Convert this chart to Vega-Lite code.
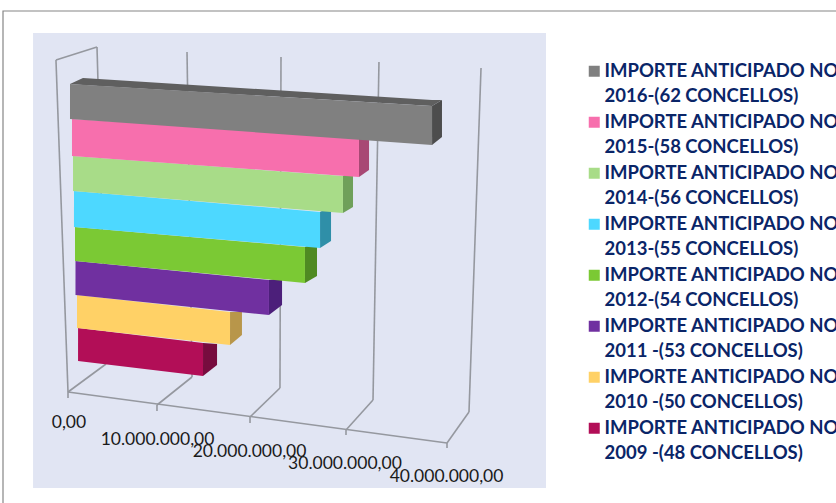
{
"$schema":"https://vega.github.io/schema/vega-lite/v6.json",
"width":836,"height":503,"padding":0,"autosize":{"type":"none"},
"background":"white",
"config":{"view":{"stroke":null},"font":"Lato"},
"datasets":{
"panel":[{"a":-3.69,"b":50.45,"t":33,"u":488}],
"frame":[{"a":-6.86,"b":85,"t":11,"u":525}],
"grid":[
{"m":-1.27,"y":60,"m2":3.06,"y2":47},
{"m":-1.27,"y":60,"m2":0,"y2":392},
{"m":3.06,"y":47,"m2":4.01,"y2":364},
{"m":12.56,"y":52,"m2":13.09,"y2":377},
{"m":22.48,"y":57,"m2":22.37,"y2":388},
{"m":32.82,"y":62,"m2":32.19,"y2":400},
{"m":43.59,"y":68,"m2":42.32,"y2":412},
{"m":0,"y":392,"m2":4.01,"y2":364},
{"m":9.39,"y":405,"m2":13.09,"y2":377},
{"m":19.21,"y":417,"m2":22.37,"y2":388},
{"m":29.34,"y":430,"m2":32.19,"y2":400},
{"m":40,"y":443,"m2":42.32,"y2":412},
{"m":0,"y":392,"m2":40,"y2":443},
{"m":0,"y":392,"m2":0,"y2":398},
{"m":9.39,"y":405,"m2":9.39,"y2":411},
{"m":19.21,"y":417,"m2":19.21,"y2":423},
{"m":29.34,"y":430,"m2":29.34,"y2":435},
{"m":40,"y":443,"m2":40,"y2":448}
],
"front":[
{"s":"2009","m":1.06,"t":328,"u":361},{"s":"2009","m":14.25,"t":343,"u":376},
{"s":"2010","m":0.95,"t":295,"u":328},{"s":"2010","m":17.10,"t":312,"u":345},
{"s":"2011","m":0.79,"t":261,"u":295},{"s":"2011","m":21.21,"t":280,"u":315},
{"s":"2012","m":0.74,"t":227,"u":261},{"s":"2012","m":25.01,"t":247,"u":283},
{"s":"2013","m":0.63,"t":191,"u":227},{"s":"2013","m":26.60,"t":212,"u":248},
{"s":"2014","m":0.53,"t":156,"u":191},{"s":"2014","m":29.02,"t":176,"u":213},
{"s":"2015","m":0.42,"t":119,"u":156},{"s":"2015","m":30.71,"t":136,"u":177},
{"s":"2016","m":0.21,"t":84,"u":119},{"s":"2016","m":38.42,"t":106,"u":145}
],
"side":[
{"s":"2009","m":14.25,"t":343,"u":376},{"s":"2009","m":15.73,"t":344,"u":365},
{"s":"2010","m":17.10,"t":312,"u":345},{"s":"2010","m":18.36,"t":312,"u":335},
{"s":"2011","m":21.21,"t":280,"u":315},{"s":"2011","m":22.59,"t":278,"u":305},
{"s":"2012","m":25.01,"t":247,"u":283},{"s":"2012","m":26.28,"t":241,"u":276},
{"s":"2013","m":26.60,"t":212,"u":248},{"s":"2013","m":27.76,"t":206,"u":241},
{"s":"2014","m":29.02,"t":176,"u":213},{"s":"2014","m":30.08,"t":170,"u":207},
{"s":"2015","m":30.71,"t":136,"u":177},{"s":"2015","m":31.77,"t":130,"u":170},
{"s":"2016","m":38.42,"t":106,"u":145},{"s":"2016","m":39.47,"t":100,"u":137}
],
"topface":[
{"m":0.21,"t":84,"u":84},{"m":1.58,"t":78,"u":85},{"m":38.42,"t":100,"u":106},{"m":39.47,"t":100,"u":100}
],
"ticks":[
{"m":0.1,"y":423,"l":"0,00"},
{"m":9.45,"y":440,"l":"10.000.000,00"},
{"m":19.16,"y":452,"l":"20.000.000,00"},
{"m":29.23,"y":464,"l":"30.000.000,00"},
{"m":39.95,"y":477,"l":"40.000.000,00"}
]
},
"layer":[
{"data":{"name":"panel"},"mark":{"type":"rect","color":"#e1e5f3"},
 "encoding":{"x":{"field":"a","type":"quantitative","scale":{"domain":[-7.177,81.055]},"axis":null},"x2":{"field":"b"},
 "y":{"field":"t","type":"quantitative","scale":{"domain":[503,0]},"axis":null},"y2":{"field":"u"}}},
{"data":{"name":"frame"},"mark":{"type":"rect","fillOpacity":0,"stroke":"#868686","strokeWidth":1.2},
 "encoding":{"x":{"field":"a","type":"quantitative","scale":{"domain":[-7.177,81.055]},"axis":null},"x2":{"field":"b"},"y":{"field":"t","type":"quantitative","scale":{"domain":[503,0]},"axis":null},"y2":{"field":"u"}}},
{"data":{"name":"grid"},"mark":{"type":"rule","color":"#95989f","strokeWidth":1.6},
 "encoding":{"x":{"field":"m","type":"quantitative","scale":{"domain":[-7.177,81.055]},"axis":null},"x2":{"field":"m2"},"y":{"field":"y","type":"quantitative","scale":{"domain":[503,0]},"axis":null},"y2":{"field":"y2"}}},
{"data":{"name":"side"},"mark":{"type":"area","interpolate":"linear"},
 "encoding":{"x":{"field":"m","type":"quantitative","scale":{"domain":[-7.177,81.055]},"axis":null},"y":{"field":"t","type":"quantitative","scale":{"domain":[503,0]},"axis":null},"y2":{"field":"u"},
 "color":{"field":"s","type":"nominal","legend":null,"scale":{"domain":["2016","2015","2014","2013","2012","2011","2010","2009"],"range":["#4d4d4d","#a84874","#6fa05a","#2f8fa8","#4f8a22","#4c1f7a","#b8964a","#770c3e"]}}}},
{"data":{"name":"topface"},"mark":{"type":"area","color":"#5f5f5f"},
 "encoding":{"x":{"field":"m","type":"quantitative","scale":{"domain":[-7.177,81.055]},"axis":null},"y":{"field":"t","type":"quantitative","scale":{"domain":[503,0]},"axis":null},"y2":{"field":"u"}}},
{"data":{"name":"front"},"mark":{"type":"area","interpolate":"linear"},
 "encoding":{"x":{"field":"m","type":"quantitative","scale":{"domain":[-7.177,81.055]},"axis":null},"y":{"field":"t","type":"quantitative","scale":{"domain":[503,0]},"axis":null},"y2":{"field":"u"},
 "color":{"field":"s","type":"nominal",
  "scale":{"domain":["2016","2015","2014","2013","2012","2011","2010","2009"],"range":["#808080","#f76fad","#a8dc88","#4dd8ff","#7bc934","#7030a0","#ffd166","#b20e57"]},
  "legend":{"orient":"none","legendX":585,"legendY":62,"title":null,"symbolType":"square","symbolSize":121,"symbolStrokeWidth":0,"symbolOpacity":1,
   "labelFont":"Lato","labelFontSize":18.5,"labelFontWeight":"bold","labelColor":"#0a2568","labelLimit":400,"labelOffset":1,"rowPadding":7,
   "encode":{"labels":{"update":{"baseline":{"value":"top"},"dy":{"value":-9},"lineHeight":{"value":25}}}},
   "labelExpr":"{'2016':['IMPORTE ANTICIPADO NO','2016-(62 CONCELLOS)'],'2015':['IMPORTE ANTICIPADO NO','2015-(58 CONCELLOS)'],'2014':['IMPORTE ANTICIPADO NO','2014-(56 CONCELLOS)'],'2013':['IMPORTE ANTICIPADO NO','2013-(55 CONCELLOS)'],'2012':['IMPORTE ANTICIPADO NO','2012-(54 CONCELLOS)'],'2011':['IMPORTE ANTICIPADO NO','2011 -(53 CONCELLOS)'],'2010':['IMPORTE ANTICIPADO NO','2010 -(50 CONCELLOS)'],'2009':['IMPORTE ANTICIPADO NO','2009 -(48 CONCELLOS)']}[datum.label]"}}}},
{"data":{"name":"ticks"},"mark":{"type":"text","font":"Lato","fontSize":17.5,"color":"#1a1a1a","align":"center","baseline":"middle"},
 "encoding":{"x":{"field":"m","type":"quantitative","scale":{"domain":[-7.177,81.055]},"axis":null},"y":{"field":"y","type":"quantitative","scale":{"domain":[503,0]},"axis":null},"text":{"field":"l"}}}
],
"resolve":{"scale":{"color":"independent"}}
}
